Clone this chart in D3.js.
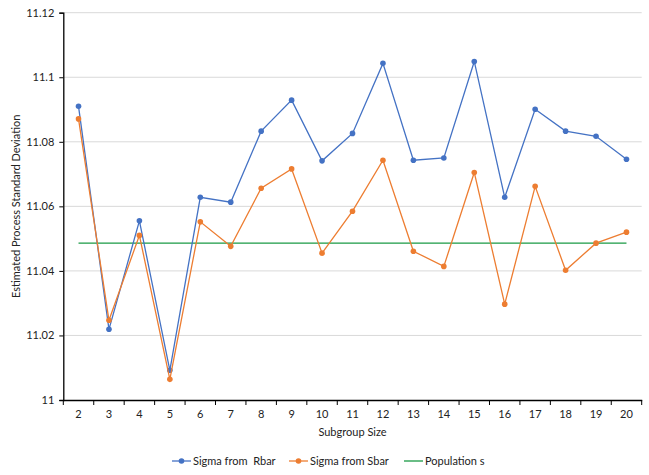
<!DOCTYPE html>
<html><head><meta charset="utf-8">
<script src="https://cdn.jsdelivr.net/npm/d3@7"></script>
<style>body{margin:0;background:#fff}svg{display:block;font-family:Lato,"Open Sans",sans-serif}text{white-space:pre}</style>
</head><body><svg id="c" width="649" height="475"></svg>
<script>
const categories = [2,3,4,5,6,7,8,9,10,11,12,13,14,15,16,17,18,19,20];
const sigmaRbar = [11.0910,11.0219,11.0555,11.0092,11.0628,11.0613,11.0833,11.0929,11.0741,11.0826,11.1043,11.0743,11.0750,11.1049,11.0628,11.0901,11.0833,11.0817,11.0746];
const sigmaSbar = [11.0871,11.0247,11.0510,11.0064,11.0552,11.0476,11.0656,11.0716,11.0455,11.0585,11.0743,11.0461,11.0414,11.0705,11.0297,11.0662,11.0402,11.0486,11.0520];
const populationS = 11.0486;
const yTicks = [11,11.02,11.04,11.06,11.08,11.1,11.12];
const seriesNames = ["Sigma from  Rbar","Sigma from Sbar","Population s"];

const svg = d3.select("#c");
const L=63.3, R=641.7, T=12.7, B=400;
const x = d3.scaleBand().domain(categories).range([L,R]);
const y = d3.scaleLinear().domain([11,11.12]).range([B,T]);
const cx = d => x(d)+x.bandwidth()/2;

// gridlines
svg.append("g").selectAll("line").data(yTicks.filter(t=>t>11)).join("line")
  .attr("x1",L).attr("x2",R).attr("y1",d=>y(d)).attr("y2",d=>y(d))
  .attr("stroke","#d9d9d9").attr("stroke-width",1);

// y axis
const yAxis = d3.axisLeft(y).tickValues(yTicks).tickSize(4).tickPadding(5)
  .tickFormat(d=>d3.format("")(+d.toFixed(2)));
const gy = svg.append("g").attr("transform",`translate(${L},0)`).call(yAxis);
gy.select(".domain").attr("stroke","#000").attr("stroke-width",1.3);
gy.selectAll(".tick line").attr("stroke","#000");
gy.selectAll("text").attr("font-size",11).attr("fill","#222").attr("font-family","Lato,sans-serif");

// x axis
const xAxis = d3.axisBottom(x).tickSize(0).tickPadding(10);
const gx = svg.append("g").attr("transform",`translate(0,${B})`).call(xAxis);
gx.select(".domain").attr("stroke","#000").attr("stroke-width",1.3);
gx.selectAll("text").attr("font-size",11).attr("fill","#222").attr("font-family","Lato,sans-serif");
// boundary ticks
const bounds = categories.map(c=>x(c)).concat([R]);
svg.append("g").selectAll("line").data(bounds).join("line")
  .attr("x1",d=>d).attr("x2",d=>d).attr("y1",B).attr("y2",B+5)
  .attr("stroke","#000").attr("stroke-width",1);

// population line
const green = "#1a9a44";
svg.append("line").attr("x1",cx(categories[0])).attr("x2",cx(categories[categories.length-1]))
  .attr("y1",y(populationS)).attr("y2",y(populationS)).attr("stroke",green).attr("stroke-width",1.3);

const line = d3.line().x((d,i)=>cx(categories[i])).y(d=>y(d));
function series(vals,color){
  svg.append("path").attr("d",line(vals)).attr("fill","none").attr("stroke",color).attr("stroke-width",1.3);
  svg.append("g").selectAll("circle").data(vals).join("circle")
    .attr("cx",(d,i)=>cx(categories[i])).attr("cy",d=>y(d)).attr("r",2.8).attr("fill",color);
}
const blue="#4472c4", orange="#ed7d31";
series(sigmaRbar,blue);
series(sigmaSbar,orange);

// axis titles
svg.append("text").attr("x",(L+R)/2).attr("y",436).attr("text-anchor","middle")
  .attr("font-size",11).attr("fill","#222").text("Subgroup Size");
svg.append("text").attr("transform",`translate(20,${(T+B)/2}) rotate(-90)`).attr("text-anchor","middle")
  .attr("font-size",11).attr("fill","#222").text("Estimated Process Standard Deviation");

// legend
const legend = [
  {name:seriesNames[0],color:blue,x0:172,marker:true},
  {name:seriesNames[1],color:orange,x0:289,marker:true},
  {name:seriesNames[2],color:green,x0:404,marker:false}
];
const ly = 461;
legend.forEach(l=>{
  svg.append("line").attr("x1",l.x0).attr("x2",l.x0+19).attr("y1",ly).attr("y2",ly)
    .attr("stroke",l.color).attr("stroke-width",1.3);
  if(l.marker) svg.append("circle").attr("cx",l.x0+9.5).attr("cy",ly).attr("r",2.8).attr("fill",l.color);
  svg.append("text").attr("x",l.x0+21).attr("y",ly+4).attr("font-size",11).attr("fill","#222").text(l.name);
});
</script></body></html>
